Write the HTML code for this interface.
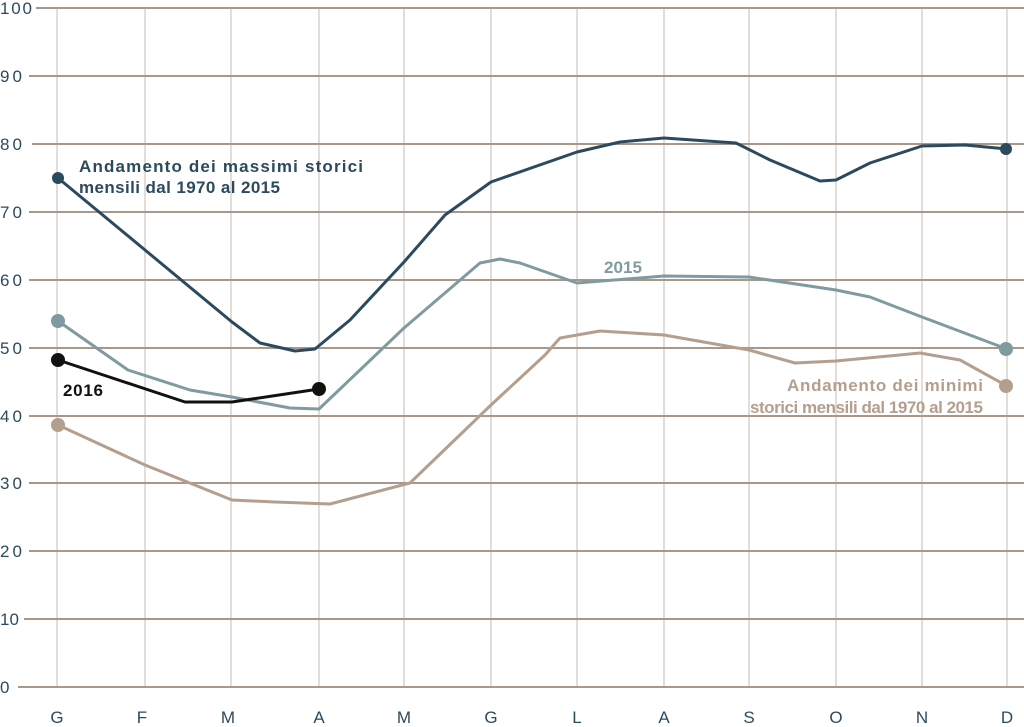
<!DOCTYPE html>
<html><head><style>
html,body{margin:0;padding:0;background:#fff;}
svg{display:block;}
text{font-family:"Liberation Sans",sans-serif;}
</style></head><body>
<svg width="1024" height="727" viewBox="0 0 1024 727" xmlns="http://www.w3.org/2000/svg">
<g stroke="#e3dcd7" stroke-width="2">
<line x1="57" y1="8" x2="57" y2="687"/><line x1="145" y1="8" x2="145" y2="687"/><line x1="231" y1="8" x2="231" y2="687"/><line x1="319" y1="8" x2="319" y2="687"/><line x1="404" y1="8" x2="404" y2="687"/><line x1="491" y1="8" x2="491" y2="687"/><line x1="577" y1="8" x2="577" y2="687"/><line x1="664" y1="8" x2="664" y2="687"/><line x1="749" y1="8" x2="749" y2="687"/><line x1="836" y1="8" x2="836" y2="687"/><line x1="922" y1="8" x2="922" y2="687"/><line x1="1007" y1="8" x2="1007" y2="687"/>
</g>
<g stroke="#a8978b" stroke-width="2">
<line x1="36" y1="8" x2="1024" y2="8"/><line x1="29" y1="76" x2="1024" y2="76"/><line x1="32" y1="144" x2="1024" y2="144"/><line x1="29" y1="212" x2="1024" y2="212"/><line x1="29" y1="280" x2="1024" y2="280"/><line x1="29" y1="348" x2="1024" y2="348"/><line x1="29" y1="416" x2="1024" y2="416"/><line x1="29" y1="483" x2="1024" y2="483"/><line x1="29" y1="551" x2="1024" y2="551"/><line x1="24" y1="619" x2="1024" y2="619"/><line x1="18" y1="687" x2="1024" y2="687"/>
</g>
<g fill="#2c4a5e" font-size="17">
<text x="0" y="14" textLength="32">100</text><text x="0" y="82" textLength="22">90</text><text x="0" y="150" textLength="22">80</text><text x="0" y="218" textLength="22">70</text><text x="0" y="286" textLength="22">60</text><text x="0" y="354" textLength="22">50</text><text x="0" y="422" textLength="22">40</text><text x="0" y="489" textLength="22">30</text><text x="0" y="557" textLength="22">20</text><text x="0" y="625" textLength="19">10</text><text x="0" y="693">0</text>
</g>
<g fill="#2c4a5e" font-size="17" text-anchor="middle">
<text x="57" y="723">G</text><text x="142" y="723">F</text><text x="228" y="723">M</text><text x="319" y="723">A</text><text x="404" y="723">M</text><text x="491" y="723">G</text><text x="577" y="723">L</text><text x="664" y="723">A</text><text x="749" y="723">S</text><text x="836" y="723">O</text><text x="922" y="723">N</text><text x="1007" y="723">D</text>
</g>
<g fill="none" stroke-width="3" stroke-linejoin="round" stroke-linecap="round">
<polyline stroke="#b49f8f" points="58,425 145,465 232,500 275,502 330,504 410,483 491,405 545,355 560,338 600,331 664,335 749,350 795,363 836,361 920,353 960,360 1007,386"/>
<polyline stroke="#7f9ba0" points="58,321 128,370 190,390 232,397 290,408 319,409 360,370 404,328 480,263 500,259 520,263 577,283 664,276 749,277 836,290 870,297 922,317 1007,349"/>
<polyline stroke="#2c4a5e" points="58,178 232,322 260,343 295,351 315,349 350,320 404,262 445,215 491,182 577,152 620,142 664,138 736,143 770,160 820,181 836,180 870,163 922,146 965,145 1007,149"/>
<polyline stroke="#111" points="58,360 185,402 232,402 319,389"/>
</g>
<circle cx="58" cy="425" r="7" fill="#b49f8f"/><circle cx="1006" cy="386" r="7" fill="#b49f8f"/>
<circle cx="58" cy="321" r="7" fill="#7f9ba0"/><circle cx="1006" cy="349" r="7" fill="#7f9ba0"/>
<circle cx="58" cy="178" r="6" fill="#2c4a5e"/><circle cx="1006" cy="149" r="6" fill="#2c4a5e"/>
<circle cx="58" cy="360" r="7" fill="#111"/><circle cx="319" cy="389" r="7" fill="#111"/>
<g font-size="17" font-weight="bold">
<text x="79" y="172" fill="#2c4a5e" textLength="284">Andamento dei massimi storici</text>
<text x="79" y="193" fill="#2c4a5e" textLength="201">mensili dal 1970 al 2015</text>
<text x="604" y="273" fill="#7f9ba0" textLength="38">2015</text>
<text x="63" y="396" fill="#111" textLength="40">2016</text>
<text x="787" y="391" fill="#b49f8f" textLength="196">Andamento dei minimi</text>
<text x="750" y="413" fill="#b49f8f" textLength="233">storici mensili dal 1970 al 2015</text>
</g>
</svg>
</body></html>
